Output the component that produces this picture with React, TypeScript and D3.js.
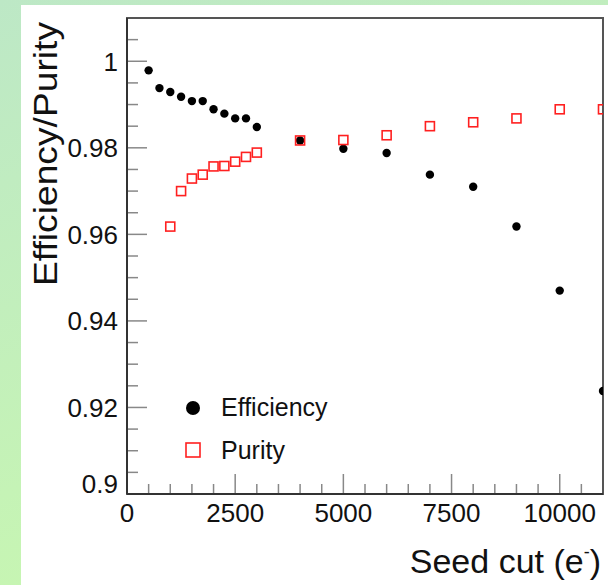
import React from 'react';
import * as d3 from 'd3';

const seedCuts = [500, 750, 1000, 1250, 1500, 1750, 2000, 2250, 2500, 2750, 3000, 4000, 5000, 6000, 7000, 8000, 9000, 10000, 11000];
const efficiency = [0.9979, 0.9938, 0.9929, 0.9918, 0.9908, 0.9908, 0.9889, 0.9879, 0.9868, 0.9868, 0.9848, 0.9817, 0.9798, 0.9788, 0.9738, 0.971, 0.9618, 0.947, 0.9238];
const purityCuts = [1000, 1250, 1500, 1750, 2000, 2250, 2500, 2750, 3000, 4000, 5000, 6000, 7000, 8000, 9000, 10000, 11000];
const purity = [0.9618, 0.97, 0.9729, 0.9738, 0.9757, 0.9758, 0.9768, 0.9779, 0.9789, 0.9817, 0.9818, 0.9829, 0.985, 0.9859, 0.9868, 0.9889, 0.9889];
const xTickLabels = [0, 2500, 5000, 7500, 10000];
const yTickLabels = [0.9, 0.92, 0.94, 0.96, 0.98, 1];

const W = 608;
const H = 585;
const FONT = '"Liberation Sans", Arial, Helvetica, sans-serif';

export default function App() {
  const x = d3.scaleLinear().domain([0, 11000]).range([127, 603]);
  const y = d3.scaleLinear().domain([0.9, 1.01]).range([494, 18]);
  const [x0, x1] = x.range();
  const [y0, y1] = y.range();

  // minor ticks every 500 / 0.005
  const xMinor = d3.range(0, 11001, 500);
  const yMinor = d3.range(0, 23).map(i => 0.9 + i * 0.005);

  return (
    <svg width={W} height={H} style={{ position: 'absolute', left: 0, top: 0, display: 'block' }} fontFamily={FONT}>
      <defs>
        <linearGradient id="bg" x1="0" y1="0" x2="0.4" y2="1">
          <stop offset="0" stopColor="#bde8c6" />
          <stop offset="1" stopColor="#c8f7b0" />
        </linearGradient>
        <clipPath id="plot">
          <rect x={x0} y={y1} width={x1 - x0} height={y0 - y1} />
        </clipPath>
      </defs>
      <rect width={W} height={H} fill="url(#bg)" />
      <rect x={21} y={5} width={W - 21} height={H - 5} fill="#ffffff" />

      {/* minor + major ticks */}
      {xMinor.map(v => {
        const major = v % 2500 === 0;
        return <line key={'xt' + v} x1={x(v)} x2={x(v)} y1={y0} y2={y0 - (major ? 20 : 10)} stroke="#888" strokeWidth={1.5} />;
      })}
      {yMinor.map((v, i) => {
        const major = i % 4 === 0;
        return <line key={'yt' + i} x1={x0} x2={x0 + (major ? 20 : 11)} y1={y(v)} y2={y(v)} stroke="#888" strokeWidth={1.5} />;
      })}

      {/* frame */}
      <rect x={x0} y={y1} width={x1 - x0} height={y0 - y1} fill="none" stroke="#555" strokeWidth={2} />
      <line x1={x0} x2={x0} y1={y1} y2={y0} stroke="#333" strokeWidth={2} />
      <line x1={x0} x2={x1} y1={y0} y2={y0} stroke="#333" strokeWidth={2} />

      {/* tick labels */}
      {xTickLabels.map(v => (
        <text key={'xl' + v} x={x(v)} y={522} textAnchor="middle" fontSize={26} fill="#111">{v}</text>
      ))}
      {yTickLabels.map(v => (
        <text key={'yl' + v} x={118} y={v === 0.9 ? y(v) - 10 : y(v)} dy="0.36em" textAnchor="end" fontSize={26} fill="#111">{String(v)}</text>
      ))}

      {/* axis titles */}
      <text transform="translate(57,22) rotate(-90)" textAnchor="end" fontSize={33} fill="#111" textLength={264} lengthAdjust="spacingAndGlyphs">Efficiency/Purity</text>
      <text x={601} y={573} textAnchor="end" fontSize={34} fill="#111">
        Seed cut (e<tspan fontSize={18} dy={-15}>-</tspan><tspan dy={15}>)</tspan>
      </text>

      {/* data */}
      <g clipPath="url(#plot)">
        {seedCuts.map((c, i) => (
          <circle key={'e' + c} cx={x(c)} cy={y(efficiency[i])} r={4.2} fill="#000" />
        ))}
        {purityCuts.map((c, i) => (
          <rect key={'p' + c} x={x(c) - 4.5} y={y(purity[i]) - 4.5} width={9} height={9} fill="none" stroke="#ff2020" strokeWidth={1.6} />
        ))}
      </g>

      {/* legend */}
      <circle cx={193} cy={408} r={7} fill="#000" />
      <text x={221} y={416} fontSize={25} fill="#111">Efficiency</text>
      <rect x={186} y={443} width={14} height={14} fill="none" stroke="#ff2020" strokeWidth={1.6} />
      <text x={221} y={459} fontSize={25} fill="#111">Purity</text>
    </svg>
  );
}
